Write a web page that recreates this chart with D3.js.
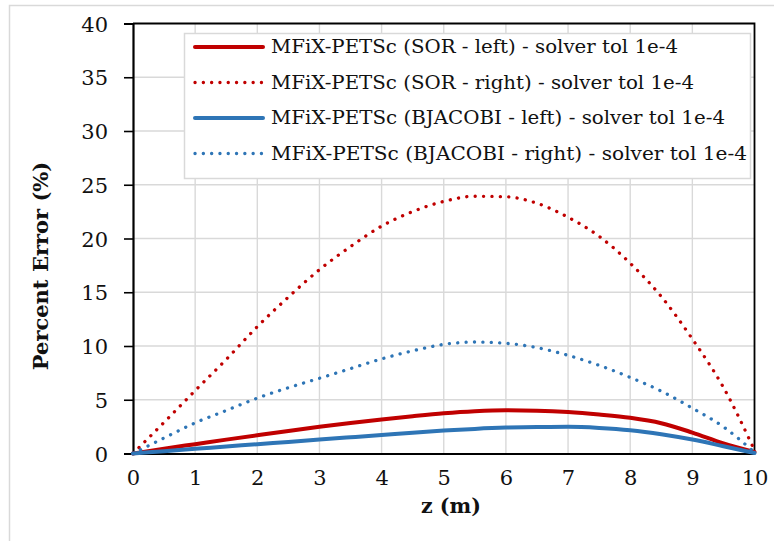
<!DOCTYPE html>
<html>
<head>
<meta charset="utf-8">
<script src="https://cdn.jsdelivr.net/npm/d3@7"></script>
<style>
  html, body { margin: 0; padding: 0; background: #fff; }
  svg { display: block; }
</style>
</head>
<body>
<svg id="chart" width="774" height="541"></svg>
<script>
// Axial position along the column (m)
const zValues = [0, 0.5, 1, 1.5, 2, 2.5, 3, 3.5, 4, 4.5, 5, 5.5, 6, 6.5, 7, 7.5, 8, 8.5, 9, 9.5, 10];

// Percent error for each solver / boundary configuration
const sorLeft      = [0, 0.45, 0.87, 1.29, 1.7, 2.1, 2.48, 2.84, 3.17, 3.47, 3.74, 3.93, 4.02, 3.98, 3.85, 3.62, 3.32, 2.82, 1.95, 0.95, 0.15];
const sorRight     = [0, 2.9, 5.85, 8.75, 11.8, 14.55, 17.1, 19.25, 21.15, 22.5, 23.45, 23.93, 23.88, 23.28, 21.98, 20.2, 17.7, 14.6, 10.65, 6.15, 0.3];
const bjacobiLeft  = [0, 0.22, 0.44, 0.65, 0.87, 1.08, 1.3, 1.51, 1.72, 1.94, 2.13, 2.29, 2.41, 2.47, 2.48, 2.38, 2.17, 1.8, 1.3, 0.68, 0.05];
const bjacobiRight = [0, 1.45, 2.85, 4.0, 5.15, 6.12, 7.0, 7.9, 8.8, 9.55, 10.15, 10.37, 10.25, 9.85, 9.13, 8.2, 7.08, 5.8, 4.22, 2.48, 0.1];

const seriesNames = [
  "MFiX-PETSc (SOR - left) - solver tol 1e-4",
  "MFiX-PETSc (SOR - right) - solver tol 1e-4",
  "MFiX-PETSc (BJACOBI - left) - solver tol 1e-4",
  "MFiX-PETSc (BJACOBI - right) - solver tol 1e-4"
];
const xTicks = [0, 1, 2, 3, 4, 5, 6, 7, 8, 9, 10];
const yTicks = [0, 5, 10, 15, 20, 25, 30, 35, 40];

const xTitle = "z (m)";
const yTitle = "Percent Error (%)";

// Styling for each series, in drawing order
const seriesStyles = [
  { color: "#C00000", dotted: false },
  { color: "#C00000", dotted: true },
  { color: "#2E75B6", dotted: false },
  { color: "#2E75B6", dotted: true }
];
const seriesValues = [sorLeft, sorRight, bjacobiLeft, bjacobiRight];

const svg = d3.select("#chart");
const serif = "'DejaVu Serif', 'Liberation Serif', serif";

// Outer chart frame
svg.append("rect")
  .attr("x", 9.5).attr("y", 5.5)
  .attr("width", 780).attr("height", 560)
  .attr("fill", "#fff").attr("stroke", "#d9d9d9").attr("stroke-width", 1.5);

const plot = { left: 133, right: 754.5, top: 23.5, bottom: 453.5 };

const x = d3.scaleLinear().domain([0, 10]).range([plot.left, plot.right]);
const y = d3.scaleLinear().domain([0, 40]).range([plot.bottom, plot.top]);

// Gridlines
const grid = svg.append("g").attr("stroke", "#d9d9d9").attr("stroke-width", 1.4);
grid.selectAll("line.v").data(xTicks.slice(1, -1)).join("line")
  .attr("x1", d => x(d)).attr("x2", d => x(d))
  .attr("y1", plot.top).attr("y2", plot.bottom);
grid.selectAll("line.h").data(yTicks.slice(1, -1)).join("line")
  .attr("x1", plot.left).attr("x2", plot.right)
  .attr("y1", d => y(d)).attr("y2", d => y(d));

// Plot frame (top and right)
svg.append("path")
  .attr("d", `M${plot.left},${plot.top}H${plot.right}V${plot.bottom}`)
  .attr("fill", "none").attr("stroke", "#000").attr("stroke-width", 1.8);

// Axes
const yAxis = svg.append("g")
  .attr("transform", `translate(${plot.left},0)`)
  .call(d3.axisLeft(y).tickValues(yTicks).tickSize(9).tickPadding(16).tickFormat(d3.format("d")));
const xAxis = svg.append("g")
  .attr("transform", `translate(0,${plot.bottom})`)
  .call(d3.axisBottom(x).tickValues(xTicks).tickSize(0).tickPadding(26).tickFormat(d3.format("d")));

[yAxis, xAxis].forEach(a => {
  a.select(".domain").attr("stroke", "#000").attr("stroke-width", 2.2);
  a.selectAll(".tick line").attr("stroke", "#000").attr("stroke-width", 1.6);
  a.selectAll(".tick text")
    .attr("font-family", serif).attr("font-size", 21).attr("fill", "#111");
});
yAxis.selectAll(".tick text").attr("dy", "0.36em");
xAxis.selectAll(".tick text").attr("dy", "0.25em");

// Data lines
const line = d3.line()
  .x(d => x(d[0]))
  .y(d => y(d[1]))
  .curve(d3.curveMonotoneX);

seriesValues.forEach((vals, i) => {
  const st = seriesStyles[i];
  const pts = zValues.map((z, k) => [z, vals[k]]);
  svg.append("path")
    .datum(pts)
    .attr("d", line)
    .attr("fill", "none")
    .attr("stroke", st.color)
    .attr("stroke-width", st.dotted ? 3.3 : 4)
    .attr("stroke-linecap", "round")
    .attr("stroke-linejoin", "round")
    .attr("stroke-dasharray", st.dotted ? "0.1 8.3" : null);
});

// Legend
const legend = svg.append("g");
legend.append("rect")
  .attr("x", 184.5).attr("y", 33.5)
  .attr("width", 566).attr("height", 145)
  .attr("fill", "#fff").attr("stroke", "#d9d9d9").attr("stroke-width", 1.5);

const rowY = [47, 82.5, 118, 153.5];
const textWidths = [407, 423, 454, 476];
seriesNames.forEach((name, i) => {
  const st = seriesStyles[i];
  legend.append("line")
    .attr("x1", 195).attr("x2", 263)
    .attr("y1", rowY[i]).attr("y2", rowY[i])
    .attr("stroke", st.color)
    .attr("stroke-width", st.dotted ? 3.3 : 4)
    .attr("stroke-linecap", "round")
    .attr("stroke-dasharray", st.dotted ? "0.1 8.2" : null);
  legend.append("text")
    .attr("x", 271).attr("y", rowY[i])
    .attr("dy", "0.35em")
    .attr("font-family", serif).attr("font-size", 18.5)
    .attr("fill", "#111")
    .attr("textLength", textWidths[i])
    .attr("lengthAdjust", "spacingAndGlyphs")
    .text(name);
});

// Axis titles
svg.append("text")
  .attr("x", 451).attr("y", 513)
  .attr("text-anchor", "middle")
  .attr("font-family", serif).attr("font-weight", "bold").attr("font-size", 20.5)
  .attr("fill", "#111")
  .text(xTitle);

svg.append("text")
  .attr("transform", "translate(48,266) rotate(-90)")
  .attr("text-anchor", "middle")
  .attr("font-family", serif).attr("font-weight", "bold").attr("font-size", 21)
  .attr("fill", "#111")
  .text(yTitle);
</script>
</body>
</html>
